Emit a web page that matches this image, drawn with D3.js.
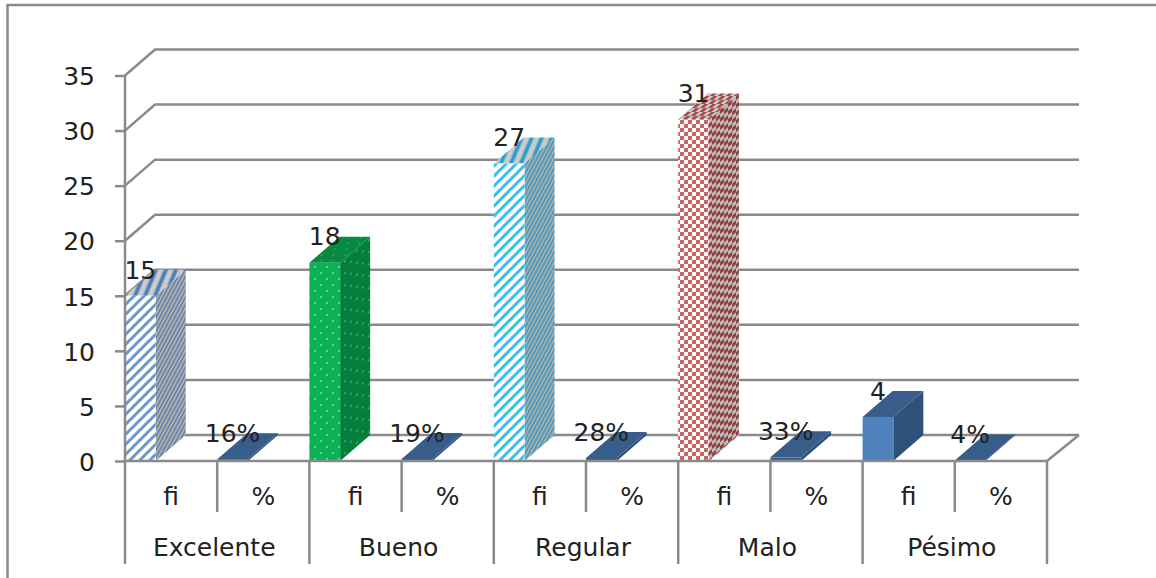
<!DOCTYPE html>
<html>
<head>
<meta charset="utf-8">
<script src="https://cdn.jsdelivr.net/npm/d3@7"></script>
<style>
  html, body { margin: 0; padding: 0; background: #fff; }
  svg { display: block; }
  text { font-family: "DejaVu Sans", sans-serif; fill: #222; }
</style>
</head>
<body>
<script>
// Chart data
var categories = ["Excelente", "Bueno", "Regular", "Malo", "Pésimo"];
var measures = ["fi", "%"];
var fiValues = [15, 18, 27, 31, 4];
var pctValues = [0.16, 0.19, 0.28, 0.33, 0.04];
var yTicks = [0, 5, 10, 15, 20, 25, 30, 35];

var svgWidth = 1156;
var svgHeight = 578;

// Offset of the back wall from the front of the 3D box
var depthX = 30;
var depthY = 26;

var gridColor = "#8a8a8a";
var fontSize = 25;

var svg = d3.select("body").append("svg")
  .attr("width", svgWidth)
  .attr("height", svgHeight);

var defs = svg.append("defs");

function addPattern(id, size, bg, transform, draw) {
  var p = defs.append("pattern")
    .attr("id", id)
    .attr("patternUnits", "userSpaceOnUse")
    .attr("width", size)
    .attr("height", size);
  if (transform) p.attr("patternTransform", transform);
  p.append("rect").attr("width", size).attr("height", size).attr("fill", bg);
  draw(p);
}

// Wide upward diagonal hatch
function stripes(id, size, width, bg, color, transform) {
  addPattern(id, size, bg, transform, function(p) {
    p.append("path")
      .attr("d", "M-2,2 L2,-2 M-2," + (size + 2) + " L" + (size + 2) + ",-2 M" + (size - 2) + "," + (size + 2) + " L" + (size + 2) + "," + (size - 2))
      .attr("stroke", color)
      .attr("stroke-width", width);
  });
}

function dots(id, bg, color, transform) {
  addPattern(id, 12, bg, transform, function(p) {
    p.append("circle").attr("cx", 3).attr("cy", 3).attr("r", 0.9).attr("fill", color);
    p.append("circle").attr("cx", 9).attr("cy", 9).attr("r", 0.9).attr("fill", color);
  });
}

function checks(id, bg, color, transform) {
  addPattern(id, 8, bg, transform, function(p) {
    p.append("rect").attr("width", 4).attr("height", 4).attr("fill", color);
    p.append("rect").attr("x", 4).attr("y", 4).attr("width", 4).attr("height", 4).attr("fill", color);
  });
}

var sideSkew = "skewY(-41)";
var topSkew = "skewX(-49)";
var topHatch = "skewX(30)";

stripes("exc-front", 10, 3, "#fff", "#6a97cf");
stripes("exc-side", 7, 2.2, "#b0b0b0", "#5f7fa8", sideSkew);
stripes("exc-top", 10, 3, "#cbcbcb", "#4a7fb8", topHatch);

dots("bue-front", "#0bb254", "#8fe0b2");
dots("bue-side", "#047f3b", "#4fb07c", sideSkew);
dots("bue-top", "#058a40", "#3aa86c", topSkew);

stripes("reg-front", 10, 3, "#fff", "#35c0ec");
stripes("reg-side", 7, 2.2, "#ababab", "#359dc4", sideSkew);
stripes("reg-top", 10, 3, "#cbcbcb", "#2a9fcb", topHatch);

checks("mal-front", "#fff", "#cc6462");
checks("mal-side", "#bababa", "#93403e", sideSkew);
checks("mal-top", "#c6c6c6", "#a84a48", topSkew);

// Fill per category for the fi bars: [front, side, top]
var fiFills = [
  ["url(#exc-front)", "url(#exc-side)", "url(#exc-top)"],
  ["url(#bue-front)", "url(#bue-side)", "url(#bue-top)"],
  ["url(#reg-front)", "url(#reg-side)", "url(#reg-top)"],
  ["url(#mal-front)", "url(#mal-side)", "url(#mal-top)"],
  ["#4f81bd", "#2f5078", "#385d8a"]
];
var pctFills = ["#385d8a", "#2f5078", "#385d8a"];

// One row per bar
var rows = [];
categories.forEach(function(c, i) {
  rows.push({ key: c + "|fi", label: measures[0], value: fiValues[i], text: String(fiValues[i]), fills: fiFills[i] });
  rows.push({ key: c + "|%", label: measures[1], value: pctValues[i], text: Math.round(pctValues[i] * 100) + "%", fills: pctFills });
});

var x = d3.scaleBand()
  .domain(rows.map(function(d) { return d.key; }))
  .range([125, 1047]);

var y = d3.scaleLinear()
  .domain([0, 35])
  .range([461, 75.5]);

var barWidth = x.bandwidth() / 3;

// Outer frame, only the top and left edges fall inside the image
svg.append("path")
  .attr("d", "M7.5," + svgHeight + " V5 H" + svgWidth)
  .attr("fill", "none")
  .attr("stroke", gridColor)
  .attr("stroke-width", 2.5);

// Side wall and back wall gridlines
var x0 = x.range()[0];
var x1 = x.range()[1];

svg.append("g").selectAll("path")
  .data(yTicks)
  .enter()
  .append("path")
  .attr("d", function(d) {
    return "M" + x0 + "," + y(d) + " L" + (x0 + depthX) + "," + (y(d) - depthY) + " H" + (x1 + depthX + 2);
  })
  .attr("fill", "none")
  .attr("stroke", gridColor)
  .attr("stroke-width", 2.5);

// Right edge of the floor
svg.append("line")
  .attr("x1", x1).attr("y1", y(0))
  .attr("x2", x1 + depthX + 2).attr("y2", y(0) - depthY)
  .attr("stroke", gridColor)
  .attr("stroke-width", 2.5);

// Bars: side, top, then front face
var bars = svg.append("g").selectAll("g")
  .data(rows)
  .enter()
  .append("g");

bars.append("path")
  .attr("fill", function(d) { return d.fills[1]; })
  .attr("d", function(d) {
    var l = x(d.key) + barWidth;
    return "M" + l + "," + y(0) + " V" + y(d.value) +
      " l" + depthX + "," + (-depthY) + " V" + (y(0) - depthY) + " Z";
  });

bars.append("path")
  .attr("fill", function(d) { return d.fills[2]; })
  .attr("d", function(d) {
    var l = x(d.key);
    return "M" + l + "," + y(d.value) + " h" + barWidth +
      " l" + depthX + "," + (-depthY) + " h" + (-barWidth) + " Z";
  });

bars.append("rect")
  .attr("x", function(d) { return x(d.key); })
  .attr("y", function(d) { return y(d.value); })
  .attr("width", barWidth)
  .attr("height", function(d) { return y(0) - y(d.value); })
  .attr("fill", function(d) { return d.fills[0]; });

// Value axis
var yAxis = d3.axisLeft(y)
  .tickValues(yTicks)
  .tickSize(10)
  .tickPadding(20);

var yAxisGroup = svg.append("g")
  .attr("transform", "translate(" + x0 + ",0)")
  .call(yAxis);

yAxisGroup.selectAll("path, line")
  .attr("stroke", gridColor)
  .attr("stroke-width", 2.5);
yAxisGroup.select(".domain").attr("d", "M0," + y(35) + " V" + y(0));
yAxisGroup.selectAll("text")
  .attr("font-family", null)
  .attr("font-size", fontSize)
  .attr("dy", "0.37em")
  .attr("fill", "#222");

// Two level category axis
var axisBase = svg.append("g");

axisBase.append("line")
  .attr("x1", x0).attr("x2", x1)
  .attr("y1", y(0)).attr("y2", y(0))
  .attr("stroke", gridColor)
  .attr("stroke-width", 2.5);

axisBase.selectAll(".measure-tick")
  .data(rows.filter(function(d) { return d.label === "%"; }))
  .enter()
  .append("line")
  .attr("class", "measure-tick")
  .attr("x1", function(d) { return x(d.key); })
  .attr("x2", function(d) { return x(d.key); })
  .attr("y1", y(0))
  .attr("y2", 512)
  .attr("stroke", gridColor)
  .attr("stroke-width", 2.5);

var groupEdges = categories.map(function(c) { return x(c + "|fi"); }).concat([x1]);

axisBase.selectAll(".group-tick")
  .data(groupEdges)
  .enter()
  .append("line")
  .attr("class", "group-tick")
  .attr("x1", function(d) { return d; })
  .attr("x2", function(d) { return d; })
  .attr("y1", y(0))
  .attr("y2", 564)
  .attr("stroke", gridColor)
  .attr("stroke-width", 2.5);

axisBase.selectAll(".measure-label")
  .data(rows)
  .enter()
  .append("text")
  .attr("class", "measure-label")
  .attr("x", function(d) { return x(d.key) + x.bandwidth() / 2; })
  .attr("y", 496)
  .attr("dy", "0.35em")
  .attr("text-anchor", "middle")
  .attr("font-size", fontSize)
  .text(function(d) { return d.label; });

axisBase.selectAll(".group-label")
  .data(categories)
  .enter()
  .append("text")
  .attr("class", "group-label")
  .attr("x", function(d) { return x(d + "|fi") + x.bandwidth() - 3; })
  .attr("y", 547)
  .attr("dy", "0.35em")
  .attr("text-anchor", "middle")
  .attr("font-size", fontSize)
  .text(function(d) { return d; });

// Data labels
svg.append("g").selectAll("text")
  .data(rows)
  .enter()
  .append("text")
  .attr("x", function(d) { return x(d.key) + barWidth / 2; })
  .attr("y", function(d) { return y(d.value) - depthY; })
  .attr("dy", "0.35em")
  .attr("text-anchor", "middle")
  .attr("font-size", fontSize)
  .text(function(d) { return d.text; });
</script>
</body>
</html>
